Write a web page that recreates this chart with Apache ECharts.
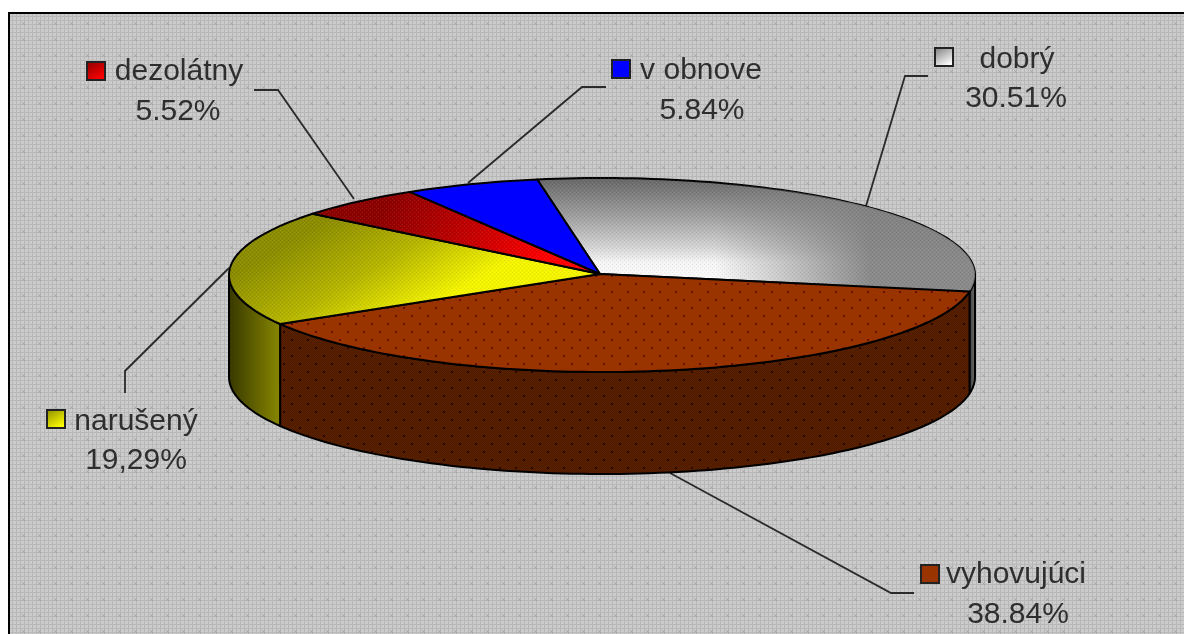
<!DOCTYPE html>
<html>
<head>
<meta charset="utf-8">
<style>
  html,body{margin:0;padding:0;background:#fff;overflow:hidden}
  #main{width:1184px;height:634px}
</style>
<script src="https://cdn.jsdelivr.net/npm/echarts@6/dist/echarts.min.js"></script>
</head>
<body>
<div id="main"></div>
<script>
// data
var categories = ['dobrý', 'vyhovujúci', 'narušený', 'dezolátny', 'v obnove'];
var shares = [30.51, 38.84, 19.29, 5.52, 5.84];
var shareLabels = ['30.51%', '38.84%', '19,29%', '5.52%', '5.84%'];

// pie geometry
var cx = 602, cy = 275, rx = 373, ry = 97, depth = 102;
var startAngle = -10; // degrees clockwise from the top

var total = shares.reduce(function (a, b) { return a + b; }, 0);

function px(deg) { return cx + rx * Math.sin(deg * Math.PI / 180); }
function py(deg) { return cy - ry * Math.cos(deg * Math.PI / 180); }

function arc(a0, a1, dy) {
    var pts = [];
    var n = Math.max(2, Math.ceil(Math.abs(a1 - a0) / 1.5));
    for (var i = 0; i <= n; i++) {
        var a = a0 + (a1 - a0) * i / n;
        pts.push([px(a), py(a) + dy]);
    }
    return pts;
}

function tile(size, draw) {
    var c = document.createElement('canvas');
    c.width = c.height = size;
    draw(c.getContext('2d'));
    return { image: c, repeat: 'repeat' };
}

function dot(ctx, color, list) {
    ctx.fillStyle = color;
    list.forEach(function (p) { ctx.fillRect(p[0], p[1], 1, 1); });
}

var bgTile = tile(16, function (ctx) {
    ctx.fillStyle = '#cccccc';
    ctx.fillRect(0, 0, 16, 16);
    ctx.fillStyle = '#b8b8b8';
    for (var i = 0; i < 16; i += 4) {
        ctx.fillRect(i, 0, 1, 16);
        ctx.fillRect(0, i, 16, 1);
    }
    dot(ctx, '#a4a4a4', [[6, 6], [8, 6], [7, 7], [6, 8], [8, 8]]);
});

var brownTopTile = tile(16, function (ctx) {
    ctx.fillStyle = '#993300';
    ctx.fillRect(0, 0, 16, 16);
    ctx.fillStyle = '#661100';
    ctx.fillRect(3, 3, 2, 2);
    ctx.fillRect(11, 11, 2, 2);
});

var brownSideTile = tile(16, function (ctx) {
    ctx.fillStyle = '#5c2200';
    ctx.fillRect(0, 0, 16, 16);
    ctx.fillStyle = '#4c1a00';
    for (var x = 0; x < 16; x++) {
        for (var y = 0; y < 16; y++) {
            if ((x + y) % 2 === 0) { ctx.fillRect(x, y, 1, 1); }
        }
    }
    ctx.fillStyle = '#2a0800';
    ctx.fillRect(3, 3, 2, 2);
    ctx.fillRect(11, 11, 2, 2);
});

// sparse dither laid over the gradient faces
var ditherTile = tile(4, function (ctx) {
    dot(ctx, 'rgba(0,0,0,0.07)', [[0, 0], [2, 2]]);
    dot(ctx, 'rgba(255,255,255,0.09)', [[2, 0], [0, 2]]);
});

function linear(x0, y0, x1, y1, stops) {
    return new echarts.graphic.LinearGradient(x0, y0, x1, y1, stops.map(function (s) {
        return { offset: s[0], color: s[1] };
    }), true);
}

var topFills = [
    linear(0, 178, 0, 290, [[0, '#666666'], [0.35, '#a0a0a0'], [0.62, '#d4d4d4'], [0.75, '#f4f4f4'], [1, '#ffffff']]),
    brownTopTile,
    linear(335, 215, 400, 325, [[0, '#8c8c00'], [0.5, '#b4b400'], [1, '#f4f400']]),
    linear(390, 195, 540, 275, [[0, '#8c0000'], [0.5, '#c00000'], [1, '#ff0000']]),
    '#0000ff'
];
var sideFills = [
    linear(965, 0, 975, 0, [[0, '#2c2c2c'], [1, '#666666']]),
    brownSideTile,
    linear(229, 0, 278, 0, [[0, '#383800'], [1, '#848400']]),
    '#000000',
    '#000000'
];

function renderSlice(params, api) {
    var i = params.dataIndex;
    var before = 0;
    for (var k = 0; k < i; k++) { before += shares[k]; }
    var a0 = startAngle + before / total * 360;
    var a1 = a0 + api.value(0) / total * 360;
    var edge = { stroke: '#000', lineWidth: 2, lineJoin: 'round' };
    var children = [];

    // wall, only where the slice passes the front half
    var s0 = Math.max(a0, 90), s1 = Math.min(a1, 270);
    if (s1 > s0) {
        var wall = arc(s0, s1, 0).concat(arc(s1, s0, depth));
        children.push({
            type: 'polygon',
            shape: { points: wall },
            style: Object.assign({ fill: sideFills[i] }, edge)
        });
    }

    var face = [[cx - 2, cy - 1]].concat(arc(a0, a1, 0));
    children.push({
        type: 'polygon',
        shape: { points: face },
        style: Object.assign({ fill: topFills[i] }, edge)
    });
    if (i === 0) {
        // the grey slice also darkens towards its right end
        children.push({
            type: 'polygon',
            shape: { points: face },
            style: {
                fill: linear(715, 0, 870, 0, [[0, 'rgba(128,128,128,0)'], [1, 'rgba(128,128,128,0.92)']])
            }
        });
    }
    if (i === 0 || i === 2 || i === 3) {
        children.push({ type: 'polygon', shape: { points: face }, style: { fill: ditherTile } });
    }
    return { type: 'group', children: children };
}

// label, key and leader line layout
var labelBoxes = [
    { key: [935, 48], name: [1017, 60], pct: [1016, 99], line: [[928, 76], [905, 76], [866, 206]] },
    { key: [921, 565], name: [1016, 575], pct: [1018, 615], line: [[914, 593], [891, 593], [670, 473]] },
    { key: [47, 410], name: [136, 422], pct: [136, 461], line: [[125, 393], [125, 371], [229, 268]] },
    { key: [87, 62], name: [179, 72], pct: [178, 112], line: [[254, 90], [278, 90], [354, 199]] },
    { key: [612, 60], name: [701, 71], pct: [702, 111], line: [[606, 87], [582, 87], [468, 183]] }
];
var keyFills = [
    new echarts.graphic.LinearGradient(0, 0, 0.6, 1, [{ offset: 0, color: '#777' }, { offset: 1, color: '#fff' }]),
    '#993300',
    new echarts.graphic.LinearGradient(0, 0, 0.6, 1, [{ offset: 0, color: '#888800' }, { offset: 1, color: '#ffff00' }]),
    new echarts.graphic.LinearGradient(0, 0, 0.6, 1, [{ offset: 0, color: '#880000' }, { offset: 1, color: '#ff0000' }]),
    '#0000ff'
];

var textStyle = { fill: '#2e2e2e', font: '30px "Liberation Sans", Arial, sans-serif', textAlign: 'center', textVerticalAlign: 'middle' };
var elements = [{
    type: 'rect',
    shape: { x: 9, y: 13, width: 1200, height: 650 },
    style: { fill: bgTile, stroke: '#000', lineWidth: 2 }
}];
categories.forEach(function (name, i) {
    var box = labelBoxes[i];
    elements.push({
        type: 'polyline',
        shape: { points: box.line },
        style: { stroke: '#2a2a2a', lineWidth: 1.8, fill: null }
    });
    elements.push({
        type: 'rect',
        shape: { x: box.key[0], y: box.key[1], width: 18, height: 18 },
        style: { fill: keyFills[i], stroke: '#222', lineWidth: 2 }
    });
    elements.push({
        type: 'text',
        style: Object.assign({ text: name, x: box.name[0], y: box.name[1] }, textStyle)
    });
    elements.push({
        type: 'text',
        style: Object.assign({ text: shareLabels[i], x: box.pct[0], y: box.pct[1] }, textStyle)
    });
});

var myChart = echarts.init(document.getElementById('main'), null, { renderer: 'canvas' });
myChart.setOption({
    animation: false,
    backgroundColor: '#fff',
    graphic: { elements: elements },
    series: [{
        type: 'custom',
        coordinateSystem: 'none',
        renderItem: renderSlice,
        silent: true,
        z: 5,
        data: shares.map(function (v, i) { return { name: categories[i], value: [v] }; })
    }]
});
</script>
</body>
</html>
